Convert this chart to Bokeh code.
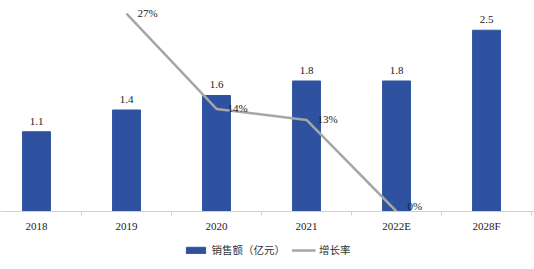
from bokeh.plotting import figure
from bokeh.layouts import column
from bokeh.models import Range1d, FixedTicker, ColumnDataSource, Legend, LegendItem, LabelSet
from bokeh.embed import file_html
from bokeh.resources import INLINE

categories = ["2018", "2019", "2020", "2021", "2022E", "2028F"]
sales = [1.1, 1.4, 1.6, 1.8, 1.8, 2.5]
growth_years = ["2019", "2020", "2021", "2022E"]
growth = [0.27, 0.14, 0.125, 0.0]
growth_labels = ["27%", "14%", "13%", "0%"]

BAR_COLOR = "#2F52A0"
LINE_COLOR = "#A6A6A6"

x_bar = list(range(len(categories)))
x_line = [categories.index(c) for c in growth_years]
label_lift = [1, 1, 1, 6]

bar_src = ColumnDataSource(dict(x=x_bar, top=sales, label=[f"{v:.1f}" for v in sales]))
line_src = ColumnDataSource(dict(x=x_line, y=growth, label=growth_labels, yoff=label_lift))

p = figure(frame_width=534, frame_height=211, output_backend="svg", toolbar_location=None,
           x_range=Range1d(-0.4, 5.533), y_range=Range1d(0, 2.91),
           min_border_left=0, min_border_right=0, min_border_top=0, min_border_bottom=0)
p.extra_y_ranges = {"g": Range1d(0, 0.288)}
p.outline_line_color = None
p.xgrid.visible = False
p.ygrid.visible = False
p.yaxis.visible = False

bars = p.vbar(x="x", top="top", width=0.31, source=bar_src, color=BAR_COLOR)
line = p.line(x="x", y="y", source=line_src, y_range_name="g", line_color=LINE_COLOR, line_width=2.5)

p.add_layout(LabelSet(x="x", y="top", text="label", source=bar_src, text_align="center",
                      text_baseline="bottom", y_offset=7, text_font="Liberation Serif",
                      text_font_size="11px", text_color="#222222"))
p.add_layout(LabelSet(x="x", y="y", text="label", source=line_src, y_range_name="g",
                      text_align="left", text_baseline="middle", x_offset=11, y_offset="yoff",
                      text_font="Liberation Serif", text_font_size="11px", text_color="#222222"))

ax = p.xaxis[0]
ax.ticker = FixedTicker(ticks=x_bar, minor_ticks=[i + 0.5 for i in range(-1, 6)])
ax.major_label_overrides = {i: c for i, c in enumerate(categories)}
ax.major_tick_out = 0
ax.major_tick_in = 0
ax.minor_tick_out = 4
ax.minor_tick_in = 0
ax.minor_tick_line_color = "#D0D0D0"
ax.axis_line_color = "#D0D0D0"
ax.major_label_text_font = "Liberation Serif"
ax.major_label_text_font_size = "11px"
ax.major_label_text_color = "#222222"
ax.major_label_standoff = 4

# legend strip: shares the data sources, its view range shows none of the marks
q = figure(width=534, height=36, output_backend="svg", toolbar_location=None,
           x_range=Range1d(100, 101), y_range=Range1d(100, 101),
           min_border_left=0, min_border_right=0, min_border_top=0, min_border_bottom=0)
q.axis.visible = False
q.grid.visible = False
q.outline_line_color = None
rb = q.vbar(x="x", top="top", width=0.31, source=bar_src, color=BAR_COLOR)
rl = q.line(x="x", y="y", source=line_src, line_color=LINE_COLOR, line_width=2.5)
legend = Legend(items=[LegendItem(label="销售额（亿元）", renderers=[rb]),
                       LegendItem(label="增长率", renderers=[rl])],
                orientation="horizontal", location="top_center",
                label_text_font="Noto Sans CJK SC", label_text_font_size="10.5px",
                label_text_color="#333333", glyph_width=24, glyph_height=8,
                spacing=6, padding=2, margin=8, border_line_color=None,
                label_standoff=4, label_height=12, background_fill_alpha=0)
q.add_layout(legend, "center")

layout = column(p, q, spacing=0)
open("out.html", "w").write(file_html(layout, INLINE))
